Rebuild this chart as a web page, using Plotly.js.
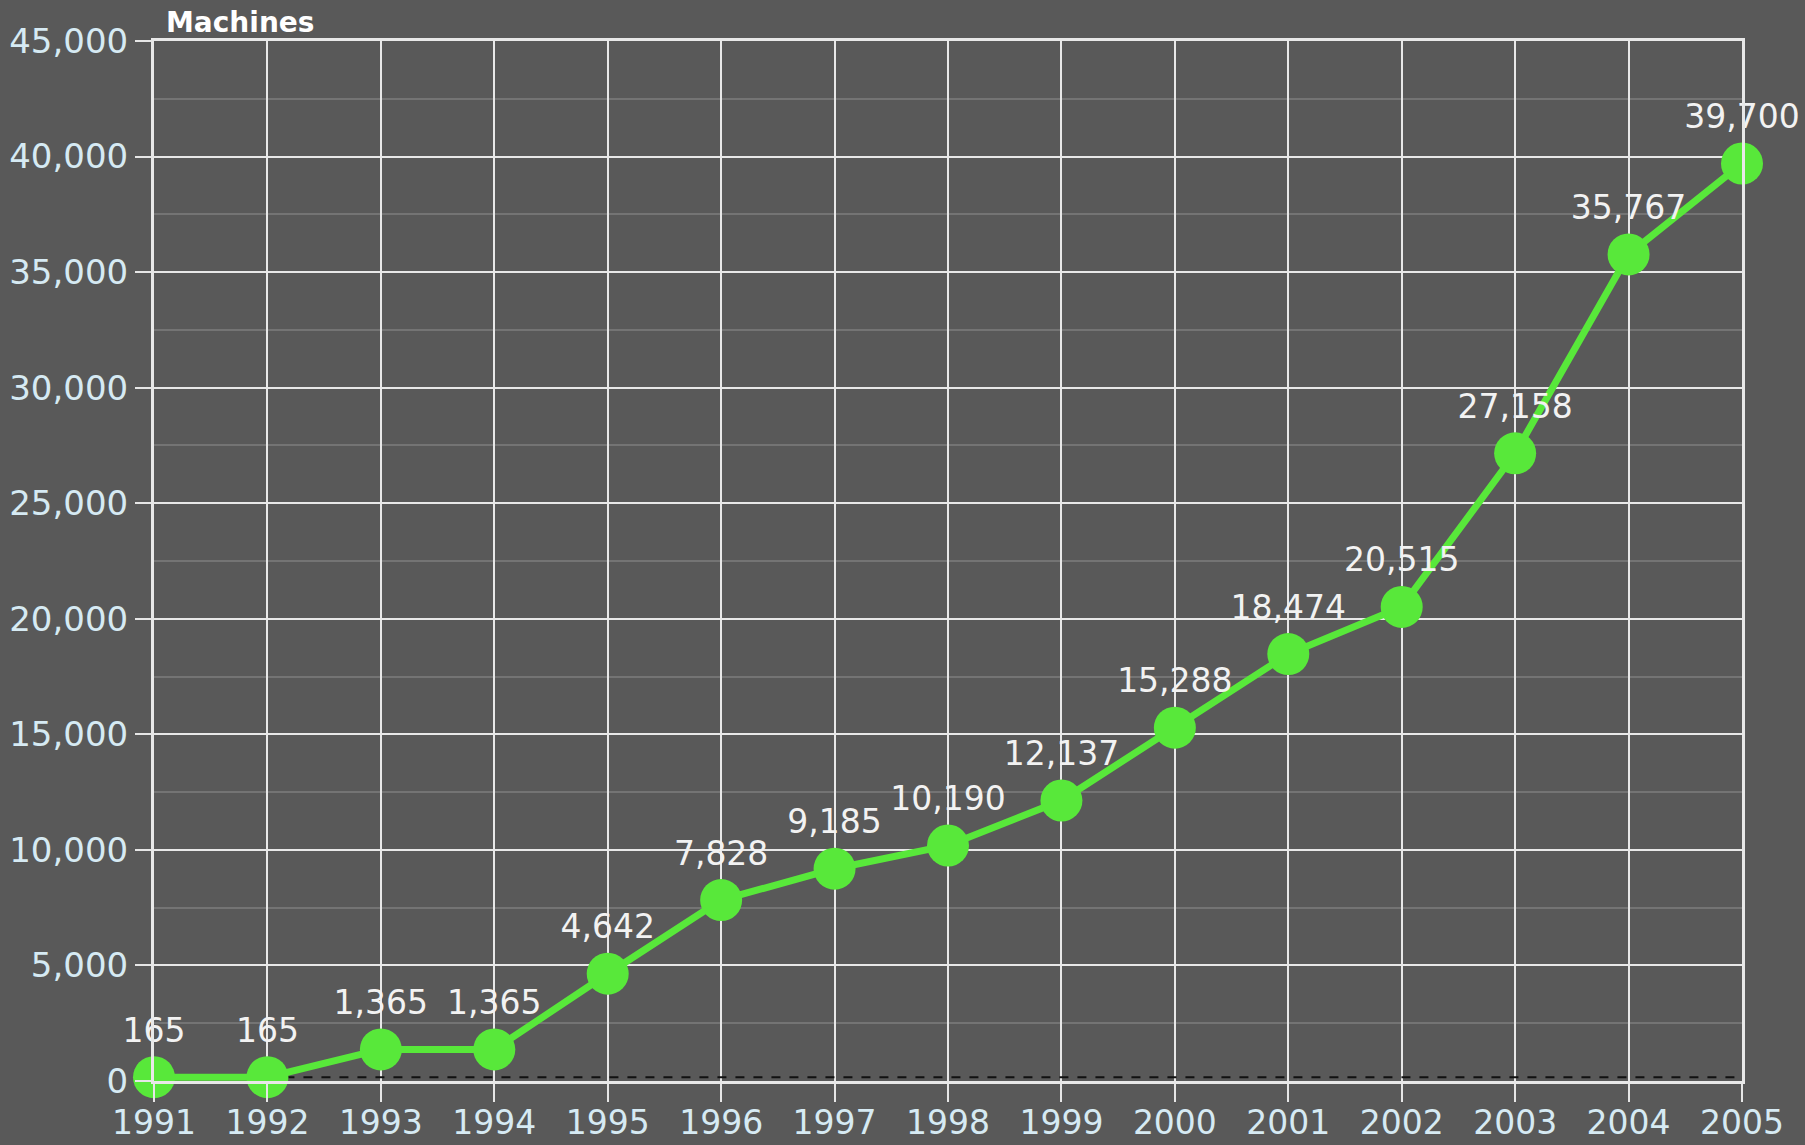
<!DOCTYPE html>
<html>
<head>
<meta charset="utf-8">
<script src="https://cdn.plot.ly/plotly-3.0.1.min.js"></script>
<style>
  html, body { margin: 0; padding: 0; background: #595959; }
  #chart { width: 1805px; height: 1145px; }
</style>
</head>
<body>
<div id="chart"></div>
<script>
// Machine count per year
const years = [1991, 1992, 1993, 1994, 1995, 1996, 1997, 1998, 1999, 2000, 2001, 2002, 2003, 2004, 2005];
const machines = [165, 165, 1365, 1365, 4642, 7828, 9185, 10190, 12137, 15288, 18474, 20515, 27158, 35767, 39700];

// Dashed baseline at the starting value
const baselineYears = [1992, 2005];
const baselineValues = [165, 165];

const yTicks = [0, 5000, 10000, 15000, 20000, 25000, 30000, 35000, 40000, 45000];

const fontFamily = '"DejaVu Sans", "Open Sans", sans-serif';
const tickColor = '#d6eaf3';
const green = '#58e83a';

const baseline = {
  x: baselineYears,
  y: baselineValues,
  type: 'scatter',
  mode: 'lines',
  line: { color: '#111111', width: 2, dash: 'dash' },
  hoverinfo: 'skip',
  showlegend: false
};

const series = {
  x: years,
  y: machines,
  type: 'scatter',
  mode: 'lines+markers+text',
  line: { color: green, width: 7 },
  marker: { color: green, size: 42, line: { width: 0 } },
  texttemplate: '%{y:,}',
  textposition: 'top center',
  textfont: { family: fontFamily, size: 33, color: '#f2f2f2' },
  cliponaxis: false,
  showlegend: false
};

const layout = {
  width: 1805,
  height: 1145,
  paper_bgcolor: '#595959',
  plot_bgcolor: '#595959',
  margin: { l: 154, r: 63, t: 41, b: 64, pad: 0 },
  font: { family: fontFamily, color: tickColor },
  showlegend: false,
  xaxis: {
    range: [1991, 2005],
    tickvals: years,
    tickformat: 'd',
    ticks: 'outside',
    ticklen: 18,
    tickwidth: 2,
    tickcolor: '#e6e6e6',
    tickfont: { family: fontFamily, size: 33, color: tickColor },
    ticklabelstandoff: -8,
    showgrid: true,
    gridcolor: '#e8e8e8',
    gridwidth: 2,
    showline: true,
    linecolor: '#e8e8e8',
    linewidth: 3,
    mirror: true,
    zeroline: false,
    fixedrange: true
  },
  yaxis: {
    range: [0, 45000],
    tickvals: yTicks,
    tickformat: ',',
    ticks: 'outside',
    ticklen: 16,
    tickwidth: 2,
    tickcolor: '#e6e6e6',
    tickfont: { family: fontFamily, size: 34, color: tickColor },
    showgrid: true,
    gridcolor: '#e8e8e8',
    gridwidth: 2,
    minor: { dtick: 2500, showgrid: true, gridcolor: '#747474', gridwidth: 2 },
    showline: true,
    linecolor: '#e8e8e8',
    linewidth: 3,
    mirror: true,
    zeroline: false,
    fixedrange: true
  },
  annotations: [{
    text: '<b>Machines</b>',
    xref: 'paper', yref: 'paper',
    x: 0, y: 1,
    xanchor: 'left', yanchor: 'bottom',
    xshift: 10, yshift: 0,
    showarrow: false,
    font: { family: fontFamily, size: 28, color: '#ffffff' }
  }]
};

Plotly.newPlot('chart', [baseline, series], layout, { displayModeBar: false, staticPlot: true });
</script>
</body>
</html>
